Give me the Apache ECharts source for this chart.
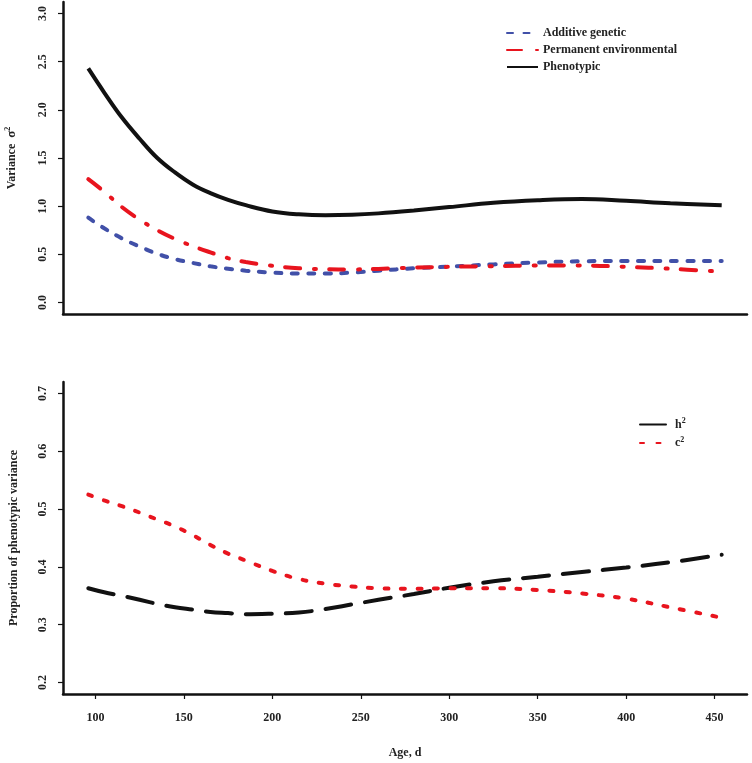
<!DOCTYPE html>
<html>
<head>
<meta charset="utf-8">
<script src="https://cdn.jsdelivr.net/npm/echarts@6/dist/echarts.min.js"></script>
<style>
html,body{margin:0;padding:0;background:#fff;}
#chart{width:752px;height:763px;}
</style>
</head>
<body>
<div id="chart"></div>
<script>
// ---- data ----
var ages = [96, 105, 115, 125, 135, 145, 155, 165, 175, 185, 200, 215, 230, 245, 260, 280, 300, 325, 350, 375, 400, 425, 454];
var additiveGenetic = [0.88, 0.77, 0.665, 0.58, 0.505, 0.45, 0.41, 0.375, 0.35, 0.33, 0.31, 0.30, 0.30, 0.31, 0.33, 0.355, 0.372, 0.395, 0.415, 0.428, 0.43, 0.43, 0.43];
var permanentEnv = [1.28, 1.15, 0.99, 0.86, 0.75, 0.66, 0.585, 0.52, 0.46, 0.42, 0.38, 0.355, 0.345, 0.343, 0.348, 0.362, 0.37, 0.377, 0.383, 0.383, 0.37, 0.35, 0.32];
var phenotypic = [2.43, 2.18, 1.92, 1.70, 1.50, 1.35, 1.225, 1.135, 1.065, 1.01, 0.945, 0.915, 0.905, 0.91, 0.925, 0.955, 0.99, 1.035, 1.062, 1.075, 1.055, 1.03, 1.01];
var h2 = [0.363, 0.356, 0.35, 0.343, 0.336, 0.33, 0.326, 0.322, 0.32, 0.318, 0.319, 0.321, 0.327, 0.335, 0.343, 0.353, 0.364, 0.375, 0.383, 0.391, 0.399, 0.408, 0.421];
var c2 = [0.525, 0.515, 0.505, 0.494, 0.482, 0.47, 0.455, 0.438, 0.423, 0.411, 0.393, 0.379, 0.371, 0.366, 0.363, 0.362, 0.363, 0.363, 0.36, 0.354, 0.345, 0.33, 0.312];
var xTicks = [100, 150, 200, 250, 300, 350, 400, 450];
var yTicksTop = [0, 0.5, 1.0, 1.5, 2.0, 2.5, 3.0];
var yTicksBottom = [0.2, 0.3, 0.4, 0.5, 0.6, 0.7];

function pairs(ys) { return ages.map(function (a, i) { return [a, ys[i]]; }); }

var FONT = 'Liberation Serif';
var TXT = '#222';
function axisLineStyle() { return { show: true, onZero: false, lineStyle: { color: '#111', width: 2.5 } }; }

function xAxisCfg(gridIndex, showLabels) {
  return {
    type: 'value', gridIndex: gridIndex, min: 81.7, max: 468.3,
    axisLine: axisLineStyle(),
    splitLine: { show: false },
    axisTick: { show: showLabels, customValues: xTicks, length: 5, lineStyle: { color: '#111', width: 1.2 } },
    axisLabel: { show: showLabels, customValues: xTicks, margin: 18, fontFamily: FONT, fontWeight: 'bold', fontSize: 12, color: TXT },
    name: showLabels ? 'Age, d' : '',
    nameLocation: 'middle', nameGap: 53,
    nameTextStyle: { fontFamily: FONT, fontWeight: 'bold', fontSize: 12, color: TXT }
  };
}
function yAxisCfg(gridIndex, min, max, ticks, name) {
  return {
    type: 'value', gridIndex: gridIndex, min: min, max: max,
    axisLine: axisLineStyle(),
    splitLine: { show: false },
    axisTick: { show: true, customValues: ticks, length: 5, lineStyle: { color: '#111', width: 1.2 } },
    axisLabel: { show: true, customValues: ticks, rotate: 90, margin: 14, fontFamily: FONT, fontWeight: 'bold', fontSize: 12, color: TXT,
      formatter: function (v) { return v.toFixed(1); } },
    name: name, nameLocation: 'middle', nameRotate: 90, nameGap: 43,
    nameTextStyle: { fontFamily: FONT, fontWeight: 'bold', fontSize: 12, color: TXT,
      rich: {
        a: { fontFamily: FONT, fontWeight: 'bold', fontSize: 12, color: TXT },
        g: { fontFamily: FONT, fontSize: 13, color: TXT },
        s: { fontFamily: FONT, fontSize: 8, color: TXT, verticalAlign: 'top', padding: [0, 0, 8, 0] }
      } }
  };
}

var hiddenSymbol = { opacity: 0, color: 'transparent', borderWidth: 0 };

var chart = echarts.init(document.getElementById('chart'), null, { renderer: 'canvas' });
chart.setOption({
  animation: false,
  backgroundColor: '#fff',
  grid: [
    { left: 63, right: 5, top: 2, height: 312, containLabel: false, outerBoundsMode: 'none' },
    { left: 63, right: 5, top: 382, height: 312, containLabel: false, outerBoundsMode: 'none' }
  ],
  xAxis: [xAxisCfg(0, false), xAxisCfg(1, true)],
  yAxis: [
    yAxisCfg(0, -0.12, 3.12, yTicksTop, '{a|Variance}  {g|σ}{s|2}'),
    yAxisCfg(1, 0.18, 0.72, yTicksBottom, 'Proportion of phenotypic variance')
  ],
  legend: [
    {
      data: ['Additive genetic', 'Permanent environmental', 'Phenotypic'],
      orient: 'vertical', left: 501, top: 22, itemWidth: 31, itemHeight: 10, itemGap: 5,
      itemStyle: hiddenSymbol,
      textStyle: { fontFamily: FONT, fontWeight: 'bold', fontSize: 12, color: TXT }
    },
    {
      data: ['h2', 'c2'],
      orient: 'vertical', left: 634, top: 412, itemWidth: 30, itemHeight: 10, itemGap: 5,
      itemStyle: hiddenSymbol,
      formatter: function (n) { return '{b|' + n.charAt(0) + '}{s|2}'; },
      textStyle: { fontFamily: FONT, fontWeight: 'bold', fontSize: 12, color: TXT,
        rich: {
          b: { fontFamily: FONT, fontWeight: 'bold', fontSize: 12, color: TXT },
          s: { fontFamily: FONT, fontWeight: 'bold', fontSize: 8, color: TXT, verticalAlign: 'top', padding: [0, 0, 7, 0] }
        } }
    }
  ],
  series: [
    { name: 'Additive genetic', type: 'line', xAxisIndex: 0, yAxisIndex: 0, data: pairs(additiveGenetic),
      smooth: 0.4, showSymbol: false, symbol: 'none', color: '#4150a8',
      lineStyle: { color: '#4150a8', width: 4, type: [6, 10.5], cap: 'round' } },
    { name: 'Permanent environmental', type: 'line', xAxisIndex: 0, yAxisIndex: 0, data: pairs(permanentEnv),
      smooth: 0.4, showSymbol: false, symbol: 'none', color: '#e8141e',
      lineStyle: { color: '#e8141e', width: 4, type: [15, 14, 2, 13], cap: 'round' } },
    { name: 'Phenotypic', type: 'line', xAxisIndex: 0, yAxisIndex: 0, data: pairs(phenotypic),
      smooth: 0.4, showSymbol: false, symbol: 'none', color: '#111',
      lineStyle: { color: '#111', width: 4 } },
    { name: 'h2', type: 'line', xAxisIndex: 1, yAxisIndex: 1, data: pairs(h2),
      smooth: 0.4, showSymbol: false, symbol: 'none', color: '#111',
      lineStyle: { color: '#111', width: 4, type: [26, 14], cap: 'round' } },
    { name: 'c2', type: 'line', xAxisIndex: 1, yAxisIndex: 1, data: pairs(c2),
      smooth: 0.4, showSymbol: false, symbol: 'none', color: '#e8141e',
      lineStyle: { color: '#e8141e', width: 4, type: [4, 12.5], cap: 'round' } }
  ]
});
</script>
</body>
</html>
